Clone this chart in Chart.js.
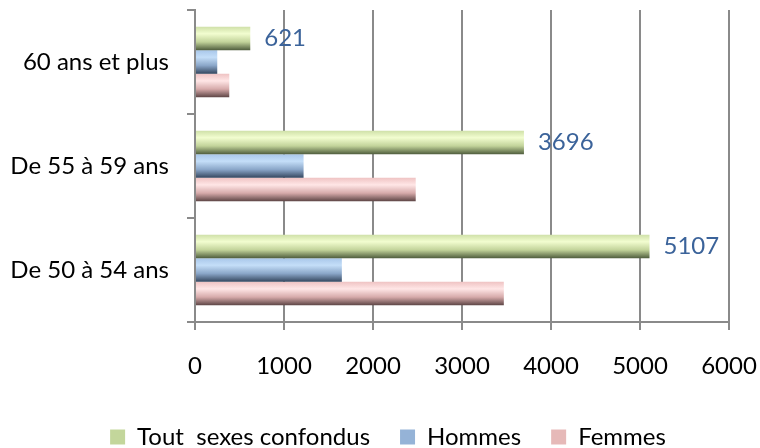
<!DOCTYPE html>
<html>
<head>
<meta charset="utf-8">
<script src="https://cdn.jsdelivr.net/npm/chart.js@4"></script>
<style>
body { margin: 0; background: #fff; }
#wrap { width: 760px; height: 448px; }
</style>
</head>
<body>
<div id="wrap"><canvas id="chart" width="760" height="448"></canvas></div>
<script>
// Données
const categories = ['60 ans et plus', 'De 55 à 59 ans', 'De 50 à 54 ans'];
const seriesNames = ['Tout  sexes confondus', 'Hommes', 'Femmes'];
const toutSexes = [621, 3696, 5107];
const hommes = [250, 1220, 1650];
const femmes = [385, 2480, 3470];
const xTicks = [0, 1000, 2000, 3000, 4000, 5000, 6000];

const FONT = 'Lato';
const catPct = 0.68;
// dégradés: haut, clair, milieu, bas
const shades = [
    ['#cfe0a8', '#f2fdd0', '#c2d39a', '#4f5d3d'],
    ['#a9c7ea', '#c4def8', '#8aa6c8', '#34465e'],
    ['#efc3c3', '#ffe6e6', '#d6aaaa', '#5c4444']
];
const flat = ['#c3d69b', '#95b3d7', '#e6b9b8'];

function barGradient(ctx) {
    const chart = ctx.chart;
    const y = chart.scales && chart.scales.y;
    if (ctx.type !== 'data' || !chart.chartArea || !y) return flat[ctx.datasetIndex];
    const band = Math.abs(y.getPixelForValue(1) - y.getPixelForValue(0));
    const size = band * catPct / 3;
    const top = y.getPixelForValue(ctx.dataIndex) - band * catPct / 2 + size * ctx.datasetIndex;
    if (!isFinite(top)) return flat[ctx.datasetIndex];
    const g = chart.ctx.createLinearGradient(0, top, 0, top + size);
    const s = shades[ctx.datasetIndex];
    g.addColorStop(0, s[0]);
    g.addColorStop(0.3, s[1]);
    g.addColorStop(0.65, s[2]);
    g.addColorStop(1, s[3]);
    return g;
}

// étiquettes de valeur pour la série totale
const valueLabels = {
    id: 'valueLabels',
    afterDatasetsDraw(chart) {
        const meta = chart.getDatasetMeta(0);
        const c = chart.ctx;
        c.save();
        c.font = '24px ' + FONT;
        c.fillStyle = '#3b639a';
        c.textBaseline = 'middle';
        c.textAlign = 'left';
        meta.data.forEach((bar, i) => {
            c.fillText(String(toutSexes[i]), bar.x + 14, bar.y);
        });
        c.restore();
    }
};

// décale un peu la légende vers la droite, comme dans l'original
const legendShift = {
    id: 'legendShift',
    afterLayout(chart) {
        if (chart.legend) chart.legend.left = 16;
    }
};

const gridColor = '#8a8a8a';

new Chart(document.getElementById('chart').getContext('2d'), {
    type: 'bar',
    data: {
        labels: categories,
        datasets: [
            { label: seriesNames[0], data: toutSexes, backgroundColor: barGradient },
            { label: seriesNames[1], data: hommes, backgroundColor: barGradient },
            { label: seriesNames[2], data: femmes, backgroundColor: barGradient }
        ]
    },
    options: {
        indexAxis: 'y',
        responsive: false,
        animation: false,
        datasets: { bar: { categoryPercentage: catPct, barPercentage: 1 } },
        layout: { padding: { top: 10, right: 0, left: 0, bottom: -11 } },
        plugins: {
            legend: {
                position: 'bottom',
                labels: {
                    font: { family: FONT, size: 24 },
                    color: '#000',
                    boxWidth: 15,
                    boxHeight: 15,
                    padding: 30,
                    generateLabels: (chart) => {
                        const items = Chart.defaults.plugins.legend.labels.generateLabels(chart);
                        items.forEach((it, i) => {
                            it.fillStyle = flat[i];
                            it.strokeStyle = flat[i];
                            it.lineWidth = 0;
                        });
                        return items;
                    }
                }
            },
            tooltip: { enabled: false }
        },
        scales: {
            x: {
                min: 0,
                max: 6000,
                afterBuildTicks: (scale) => { scale.ticks = xTicks.map(v => ({ value: v })); },
                afterFit: (scale) => {
                    scale.height = 73;
                    scale.paddingLeft = 0;
                    scale.paddingRight = 31;
                },
                ticks: { font: { family: FONT, size: 24 }, color: '#000', padding: 22, callback: (v) => String(v) },
                grid: { color: gridColor, lineWidth: 2, tickLength: 8 },
                border: { color: gridColor, width: 2 }
            },
            y: {
                afterFit: (scale) => {
                    scale.width = 195;
                    scale.paddingTop = 0;
                    scale.paddingBottom = 0;
                },
                ticks: { font: { family: FONT, size: 24 }, color: '#000', padding: 18 },
                grid: { drawOnChartArea: false, color: gridColor, lineWidth: 2, tickLength: 8 },
                border: { color: gridColor, width: 2 }
            }
        }
    },
    plugins: [valueLabels, legendShift]
});
</script>
</body>
</html>
